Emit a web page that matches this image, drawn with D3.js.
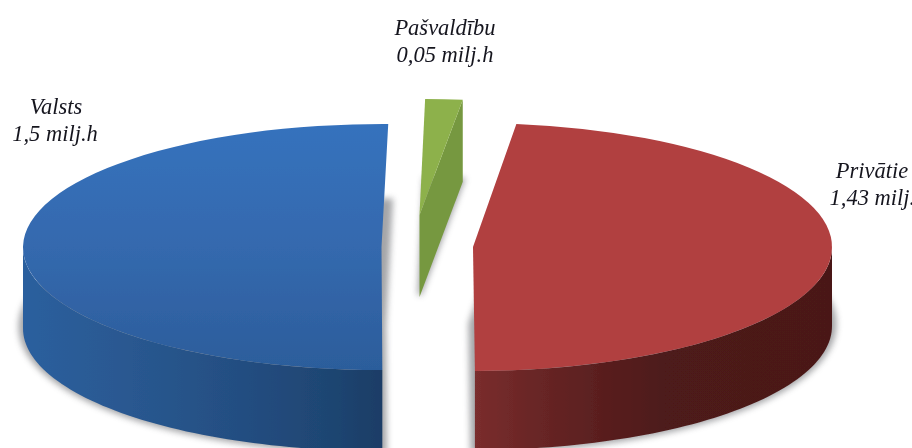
<!DOCTYPE html>
<html><head><meta charset="utf-8">
<style>html,body{margin:0;padding:0;background:#fff;overflow:hidden}svg{display:block}
text{font-family:"Liberation Serif",serif;font-style:italic;font-size:22.5px;fill:#14141f}</style>
<script src="https://cdnjs.cloudflare.com/ajax/libs/d3/7.8.5/d3.min.js"></script>
</head><body>
<svg id="c" width="912" height="448"></svg>
<script>
const categories = ["Pašvaldību", "Privātie", "Valsts"];
const values = [0.05, 1.43, 1.5];
const valueLabels = ["0,05 milj.h", "1,43 milj.h", "1,5 milj.h"];

// Presentation only
const geometry = [
  {cx:419.5, cy:215, rx:358, ry:116, depth:82, shear:0},
  {cx:473,   cy:247, rx:359, ry:124, depth:79, shear:0},
  {cx:381.5, cy:247, rx:358.5, ry:123, depth:81, shear:-0.009}
];
const topColors = ["#8db14b", "#b13f40", "url(#blueFace)"];
const wallColors = ["#76983f", null, null];
const labelPos = [[445,35,445,62],[872,178,878,205],[56,114,55,141]];
const startDeg = 0.9;

const svg = d3.select("#c");
const defs = svg.append("defs");
defs.append("filter").attr("id","blur").attr("x","-20%").attr("y","-20%").attr("width","140%").attr("height","140%")
  .append("feGaussianBlur").attr("stdDeviation",3);
defs.append("filter").attr("id","soft").append("feGaussianBlur").attr("stdDeviation",0.45);
defs.append("filter").attr("id","softText").append("feGaussianBlur").attr("stdDeviation",0.3);

function grad(id,x1,x2,stops){
  const g=defs.append("linearGradient").attr("id",id).attr("gradientUnits","userSpaceOnUse")
    .attr("x1",x1).attr("x2",x2).attr("y1",0).attr("y2",0);
  stops.forEach(s=>g.append("stop").attr("offset",s[0]).attr("stop-color",s[1]));
}
grad("blueSide",23,382,[[0,"#2c5f9e"],[0.3,"#295890"],[0.63,"#234d80"],[0.88,"#1e4470"],[1,"#1c3d66"]]);
grad("redSide",474,832,[[0,"#7a2d2d"],[0.16,"#6a2626"],[0.35,"#5a1f1f"],[0.52,"#4e1a1a"],[1,"#4a1918"]]);
const bf=defs.append("linearGradient").attr("id","blueFace").attr("x1",0).attr("x2",0).attr("y1",0).attr("y2",1);
[[0,"#3672bd"],[0.5,"#3469ae"],[1,"#2c5d9b"]].forEach(s=>bf.append("stop").attr("offset",s[0]).attr("stop-color",s[1]));

const startA = startDeg*Math.PI/180;
const pie = d3.pie().sort(null).startAngle(startA).endAngle(startA+2*Math.PI);
const slices = pie(values);
const arc = d3.arc().innerRadius(0);
const line = d3.line();
const project = (g,a,dz=0)=>{
  const t=-Math.cos(a)*g.ry;
  return [g.cx+g.rx*Math.sin(a)+g.shear*t, g.cy+t+dz];
};
const faceTransform = (g,dz=0)=>`matrix(1,0,${g.shear*g.ry/g.rx},${g.ry/g.rx},${g.cx},${g.cy+dz})`;

// shadows
const shadow = svg.append("g").attr("filter","url(#blur)").attr("fill","#5a5c60").attr("stroke","#5a5c60").attr("opacity",0.55);
slices.forEach((s,i)=>{
  const g=geometry[i];
  shadow.append("path").attr("transform",faceTransform(g,g.depth-2))
    .attr("vector-effect","non-scaling-stroke").attr("stroke-width",i==0?4:9)
    .attr("d",arc({startAngle:s.startAngle,endAngle:s.endAngle,outerRadius:g.rx}));
});

const body = svg.append("g").attr("filter","url(#soft)");
slices.forEach((s,i)=>{
  const g=geometry[i];
  const a0=Math.max(s.startAngle,Math.PI/2), a1=Math.min(s.endAngle,3*Math.PI/2);
  if(a1>a0){
    const n=d3.range(0,61).map(k=>a0+(a1-a0)*k/60);
    const pts=n.map(a=>project(g,a)).concat(n.slice().reverse().map(a=>project(g,a,g.depth)));
    body.append("path").attr("d",line(pts)+"Z").attr("fill",i==1?"url(#redSide)":"url(#blueSide)");
  }
  if(wallColors[i]){
    const e=project(g,s.endAngle), e2=project(g,s.endAngle,g.depth);
    body.append("path").attr("d",line([e,e2,[g.cx,g.cy+g.depth],[g.cx,g.cy]])+"Z").attr("fill",wallColors[i]);
  }
  body.append("path").attr("transform",faceTransform(g))
    .attr("d",arc({startAngle:s.startAngle,endAngle:s.endAngle,outerRadius:g.rx}))
    .attr("fill",topColors[i]);
});

const labels = svg.append("g").attr("filter","url(#softText)");
categories.forEach((c,i)=>{
  const p=labelPos[i];
  labels.append("text").attr("x",p[0]).attr("y",p[1]).attr("text-anchor","middle").text(c);
  labels.append("text").attr("x",p[2]).attr("y",p[3]).attr("text-anchor","middle").text(valueLabels[i]);
});
</script>
</body></html>
